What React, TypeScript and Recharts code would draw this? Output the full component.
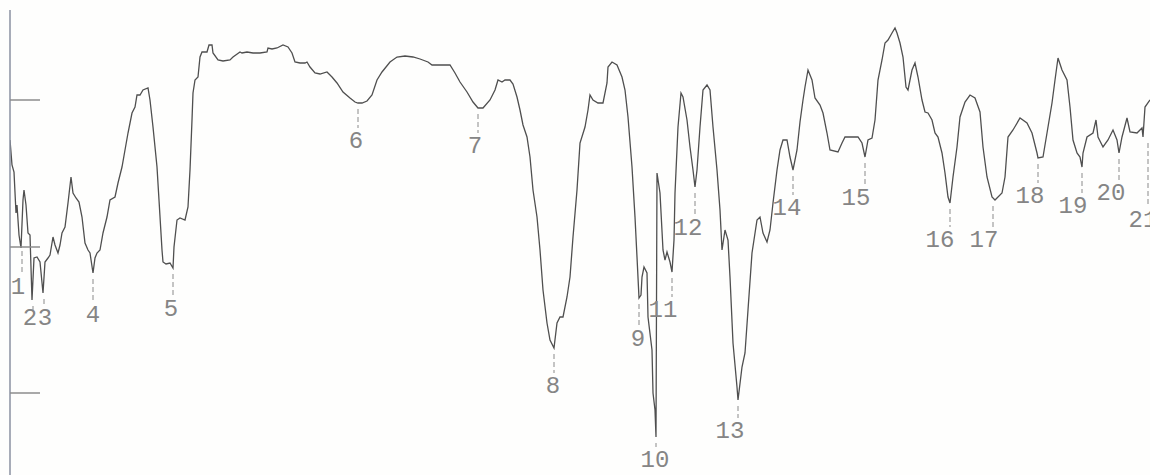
import { ComposedChart, Line, Scatter, XAxis, YAxis } from "recharts"

// trace of the recorded spectrum: position along the chart and signal height
const traceX = [
  10, 12, 14, 16, 17, 19, 21, 23, 24, 26, 28, 30, 32, 34, 37, 40, 43, 45, 48, 50,
  53, 55, 58, 60, 62, 65, 68, 71, 73, 76, 79, 82, 85, 88, 90, 93, 95, 97, 100, 103,
  107, 110, 115, 118, 122, 125, 128, 132, 135, 137, 140, 143, 148, 150, 153, 157, 159, 162, 163, 166,
  170, 173, 174, 177, 180, 185, 188, 190, 192, 193, 195, 198, 200, 202, 207, 209, 212, 213, 218, 223,
  230, 233, 240, 242, 247, 253, 260, 267, 268, 272, 277, 283, 288, 292, 295, 300, 305, 307, 310, 315,
  320, 327, 332, 337, 343, 350, 355, 358, 362, 367, 372, 377, 382, 390, 397, 405, 413, 420, 428, 432,
  440, 450, 455, 460, 467, 473, 478, 483, 490, 495, 498, 502, 505, 510, 513, 517, 520, 523, 527, 530,
  533, 537, 540, 543, 547, 550, 554, 557, 560, 563, 567, 570, 573, 577, 580, 585, 588, 590, 593, 598,
  603, 607, 608, 612, 617, 622, 625, 628, 632, 635, 637, 639, 641, 642, 644, 647, 648, 652, 653, 655,
  656, 657, 660, 663, 665, 667, 670, 672, 674, 675, 678, 681, 683, 687, 690, 693, 695, 697, 700, 703,
  707, 710, 713, 717, 720, 722, 725, 728, 730, 733, 737, 738, 742, 745, 748, 752, 757, 760, 763, 767,
  770, 773, 777, 780, 783, 787, 790, 793, 797, 800, 803, 805, 808, 812, 815, 820, 823, 827, 830, 838,
  842, 845, 858, 862, 865, 868, 872, 875, 878, 882, 885, 888, 892, 895, 897, 900, 903, 906, 908, 912,
  915, 918, 922, 925, 928, 932, 935, 938, 942, 945, 948, 950, 953, 957, 960, 965, 970, 975, 980, 983,
  987, 992, 995, 1002, 1005, 1008, 1013, 1020, 1027, 1032, 1037, 1038, 1043, 1047, 1052, 1055, 1058, 1062, 1067, 1070,
  1073, 1077, 1080, 1082, 1083, 1087, 1093, 1096, 1098, 1103, 1108, 1113, 1117, 1119, 1122, 1127, 1130, 1137, 1142, 1143,
  1145, 1150,
]

const traceV = [
  335, 310, 303, 262, 270, 240, 227, 275, 285, 270, 242, 240, 175, 217, 218, 213, 182, 213, 217, 220,
  238, 230, 222, 230, 242, 248, 272, 298, 282, 277, 273, 258, 232, 225, 222, 202, 217, 222, 225, 242,
  258, 275, 278, 292, 308, 325, 342, 362, 368, 380, 380, 385, 387, 375, 348, 308, 275, 225, 213, 211,
  212, 207, 228, 255, 257, 255, 268, 305, 355, 382, 395, 398, 418, 423, 423, 430, 430, 422, 415, 414,
  415, 418, 423, 422, 423, 422, 422, 423, 427, 426, 427, 430, 428, 422, 413, 412, 412, 413, 408, 402,
  401, 403, 398, 392, 383, 377, 373, 372, 372, 374, 380, 395, 403, 413, 418, 419, 418, 416, 413, 410,
  410, 410, 402, 393, 383, 373, 367, 367, 375, 385, 395, 393, 395, 395, 391, 378, 365, 350, 338, 318,
  285, 258, 225, 185, 152, 135, 127, 152, 158, 158, 178, 198, 238, 285, 332, 348, 365, 380, 375, 372,
  372, 392, 408, 413, 410, 398, 385, 358, 308, 258, 218, 177, 180, 198, 208, 202, 158, 125, 82, 65,
  38, 302, 282, 225, 215, 223, 213, 203, 235, 282, 348, 382, 378, 355, 328, 305, 288, 305, 348, 385,
  390, 385, 348, 305, 265, 225, 245, 235, 198, 132, 88, 75, 108, 122, 165, 222, 255, 258, 242, 233,
  245, 272, 305, 325, 335, 335, 318, 305, 325, 353, 375, 388, 405, 395, 377, 370, 362, 342, 325, 323,
  332, 338, 338, 332, 318, 335, 337, 355, 395, 415, 432, 435, 442, 447, 442, 432, 418, 388, 385, 405,
  412, 398, 375, 363, 362, 355, 342, 338, 322, 302, 278, 272, 298, 328, 358, 373, 380, 377, 363, 328,
  298, 278, 275, 282, 298, 338, 345, 357, 352, 342, 322, 317, 318, 342, 372, 395, 417, 405, 395, 368,
  335, 322, 318, 308, 322, 338, 342, 355, 338, 328, 335, 345, 335, 322, 338, 357, 343, 342, 347, 338,
  368, 375,
]

// numbered absorption bands
const peakNo = [1, 2, 3, 4, 5, 6, 7, 8, 9, 10, 11, 12, 13, 14, 15, 16, 17, 18, 19, 20, 21]
const peakX = [22, 33, 44, 93, 173, 358, 478, 554, 639, 656, 672, 695, 738, 793, 865, 950, 993, 1038, 1082, 1119, 1148]
const peakV = [230, 175, 182, 202, 207, 372, 367, 127, 177, 38, 203, 288, 75, 305, 318, 272, 275, 317, 308, 322, 338]

// axis tick positions (no labels on the original)
const yTicks = [375, 228, 82]

const trace = traceX.map((x, i) => ({ x, v: traceV[i] }))
const peaks = peakNo.map((n, i) => ({ n, x: peakX[i], v: peakV[i] }))

// label placement [dx, baseline dy] for each band number
const labelOffset: Record<number, [number, number]> = {
  1: [-4, 49], 2: [-3, 25], 3: [1, 32], 4: [0, 49], 5: [-2, 48], 6: [-2, 45], 7: [-3, 45],
  8: [-1, 45], 9: [-1, 48], 10: [-1, 30], 11: [-9, 45], 12: [-7, 48], 13: [-8, 38], 14: [-6, 45],
  15: [-9, 48], 16: [-10, 44], 17: [-9, 47], 18: [-8, 45], 19: [-9, 46], 20: [-8, 47], 21: [-5, 90],
}

function PeakMark(props: any) {
  const { cx, cy, payload } = props
  if (cx == null || cy == null) return <g />
  const [dx, dy] = labelOffset[payload.n] ?? [0, 45]
  const tickEnd = cy + Math.max(dy - 20, 10)
  return (
    <g>
      <line x1={cx} x2={cx} y1={cy + 6} y2={tickEnd} stroke="#8a8a8a" strokeWidth={1} strokeDasharray="5 3" />
      <text
        x={cx + dx}
        y={cy + dy}
        textAnchor="middle"
        fontFamily="'Liberation Mono', 'DejaVu Sans Mono', monospace"
        fontSize={24}
        fill="#858585"
      >
        {payload.n}
      </text>
    </g>
  )
}

function NoLabel() {
  return <g />
}

export default function App() {
  return (
    <div style={{ width: 1150, height: 475, overflow: "hidden", background: "#fefefd" }}>
      <style>{"body{margin:0}"}</style>
      <ComposedChart width={1150} height={475} data={trace} margin={{ top: 10, right: 0, bottom: 0, left: 10 }}>
        <XAxis dataKey="x" type="number" domain={[10, 1150]} hide allowDataOverflow />
        <YAxis
          type="number"
          domain={[0, 465]}
          ticks={yTicks}
          mirror
          width={10}
          tickSize={30}
          tick={<NoLabel />}
          axisLine={{ stroke: "#8a90a0", strokeWidth: 1.5 }}
          tickLine={{ stroke: "#8c8c8c", strokeWidth: 1.5 }}
          allowDataOverflow
        />
        <Line
          type="linear"
          dataKey="v"
          stroke="#4f4f4f"
          strokeWidth={1.3}
          dot={false}
          isAnimationActive={false}
        />
        <Scatter data={peaks} dataKey="v" shape={<PeakMark />} isAnimationActive={false} />
      </ComposedChart>
    </div>
  )
}
